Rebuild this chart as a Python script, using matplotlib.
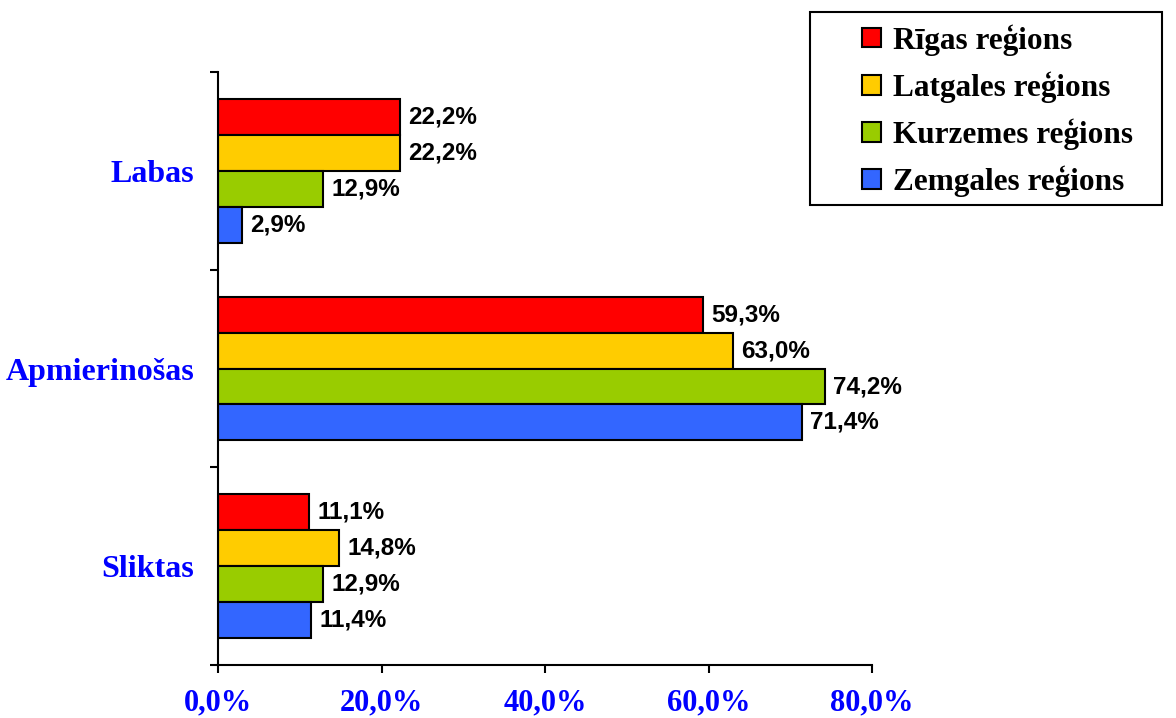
import matplotlib
matplotlib.use("Agg")
import matplotlib.pyplot as plt
import numpy as np
from matplotlib.ticker import FuncFormatter
from matplotlib.patches import Rectangle

# vērtējumi un reģioni
kategorijas = ['Labas', 'Apmierinošas', 'Sliktas']
regioni = ['Rīgas reģions', 'Latgales reģions', 'Kurzemes reģions', 'Zemgales reģions']
rigas = [22.2, 59.3, 11.1]
latgales = [22.2, 63.0, 14.8]
kurzemes = [12.9, 74.2, 12.9]
zemgales = [2.9, 71.4, 11.4]
x_ticks = [0, 20, 40, 60, 80]

vertibas = [rigas, latgales, kurzemes, zemgales]
krasas = ['#FF0000', '#FFCC00', '#99CC00', '#3366FF']

serif = ['Liberation Serif', 'DejaVu Serif']
sans = ['Liberation Sans', 'DejaVu Sans']

fig = plt.figure(figsize=(11.76, 7.18), dpi=100)
ax = fig.add_axes([0.1854, 0.0738, 0.5561, 0.8259])

y = np.arange(len(kategorijas))
h = 0.182
for i, (vals, kr, nos) in enumerate(zip(vertibas, krasas, regioni)):
    pos = y + (i - 1.5) * h
    bars = ax.barh(pos, vals, height=h, color=kr, edgecolor='black', linewidth=1.5, label=nos)
    for b, v in zip(bars, vals):
        ax.annotate(f'{v:.1f}%'.replace('.', ','),
                    (b.get_width(), b.get_y() + b.get_height() / 2),
                    xytext=(6, 0), textcoords='offset points',
                    va='center', ha='left', fontsize=17.5, fontweight='bold', family=sans)

ax.set_xlim(0, 80)
ax.set_ylim(2.5, -0.5)
ax.set_xticks(x_ticks)
ax.xaxis.set_major_formatter(FuncFormatter(lambda v, p: f'{v:.1f}%'.replace('.', ',')))
ax.tick_params(axis='x', direction='out', length=6, width=1.5, pad=11)
for t in ax.get_xticklabels():
    t.set_fontfamily(serif)
    t.set_fontweight('bold')
    t.set_fontsize(22)
    t.set_color('#0000FF')

ax.set_yticks(y)
ax.set_yticklabels(kategorijas)
ax.set_yticks(np.arange(-0.5, 3, 1), minor=True)
ax.tick_params(axis='y', which='major', length=0, pad=17)
ax.tick_params(axis='y', which='minor', direction='out', length=6, width=1.5)
for t in ax.get_yticklabels():
    t.set_fontfamily(serif)
    t.set_fontweight('bold')
    t.set_fontsize(23)
    t.set_color('#0000FF')

for s in ['top', 'right']:
    ax.spines[s].set_visible(False)
for s in ['left', 'bottom']:
    ax.spines[s].set_linewidth(1.5)

# leģenda
fig.patches.append(Rectangle((810 / 1176, 1 - 205 / 718), 352 / 1176, 193 / 718,
                             transform=fig.transFigure, fill=False, edgecolor='black', linewidth=1.5))
leg = fig.legend(loc='upper left', bbox_to_anchor=(862 / 1176, 1 - 24 / 718),
                 frameon=False, handlelength=0.6, handleheight=0.6, handletextpad=0.4,
                 labelspacing=0.5, borderpad=0, borderaxespad=0,
                 prop={'family': serif, 'weight': 'bold', 'size': 22.5})

fig.savefig('out.png', dpi=100)
